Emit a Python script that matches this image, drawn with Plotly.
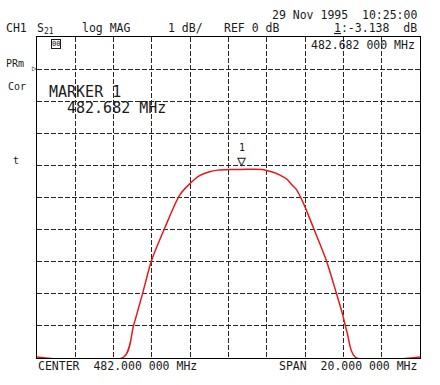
import plotly.graph_objects as go

# ---- data ----
freq_mhz = [472.00, 476.53, 477.05, 477.52, 477.99, 478.67, 479.45, 479.97, 480.49,
            481.01, 481.43, 482.05, 482.682, 483.30, 483.77, 484.29, 484.66, 485.02,
            485.33, 485.54, 485.91, 486.48, 487.10, 487.63, 487.94, 488.20, 488.61, 492.00]
s21_db = [-9.0, -9.0, -8.0, -7.0, -5.97, -4.97, -3.94, -3.59, -3.33,
          -3.21, -3.16, -3.14, -3.138, -3.13, -3.14, -3.22, -3.31, -3.43,
          -3.63, -3.76, -4.19, -5.03, -5.97, -7.0, -7.63, -8.25, -9.0, -9.0]
marker_freq = 482.682
marker_db = -3.138

center_mhz = 482.0
span_mhz = 20.0
ref_db = 0.0
scale_db = 1.0
n_div_x = 10
n_div_y = 10
ref_div_from_top = 1

x0 = center_mhz - span_mhz / 2
x1 = center_mhz + span_mhz / 2
y_top = ref_db + ref_div_from_top * scale_db
y_bot = y_top - n_div_y * scale_db

W, H = 440, 385
L, R, T, B = 37, 20, 37, 27
PW, PH = W - L - R, H - T - B
pad_db = 1.0 * (y_top - y_bot) / PH  # one pixel below the lowest trace level


def px(x):
    return (x - L) / PW


def py(y):
    return (H - B - y) / PH


MONO = "DejaVu Sans Mono"
INK = "#1a1a1a"

fig = go.Figure()
fig.add_trace(go.Scatter(x=freq_mhz, y=s21_db, mode="lines",
                         line=dict(color="#e3191c", width=1.5, shape="spline", smoothing=0.8),
                         hoverinfo="skip", showlegend=False))

axis_common = dict(showticklabels=False, ticks="", zeroline=False,
                   showline=True, linecolor="#000", linewidth=1.2, mirror=True,
                   showgrid=True, gridcolor="#262626", gridwidth=1, griddash="5px,2px",
                   layer="below traces", fixedrange=True)
fig.update_xaxes(range=[x0, x1], dtick=span_mhz / n_div_x, tick0=x0, **axis_common)
fig.update_yaxes(range=[y_bot - pad_db, y_top], dtick=scale_db, tick0=y_bot, **axis_common)

ann = []


def txt(text, x, y, size=11.5, anchor="left", color=INK, **kw):
    ann.append(dict(text=text, x=px(x), y=py(y), xref="paper", yref="paper",
                    xanchor=anchor, yanchor="middle", showarrow=False,
                    font=dict(family=MONO, size=size, color=color), **kw))


txt("29 Nov 1995  10:25:00", 419, 15, anchor="right")
txt("CH1", 4, 28)
txt("S<sub>21</sub>", 35, 28)
txt("log MAG", 80, 28)
txt("1 dB/", 205, 28, anchor="right")
txt("REF 0 dB", 222, 28)
txt("<u>1</u>:-3.138  dB", 419, 28, anchor="right")
txt("482.682 000 MHz", 417, 45, anchor="right")
txt("00", 51, 44, size=7, bordercolor=INK, borderwidth=1, borderpad=0)
txt("PRm", 4, 63, size=10)
txt("▷", 30, 68, size=8)
txt("Cor", 6, 86, size=10)
txt("t", 11, 160, size=10)
txt("MARKER 1", 47, 92, size=15)
txt("482.682 MHz", 65, 108, size=15)
txt("CENTER  482.000 000 MHz", 36, 366)
txt("SPAN  20.000 000 MHz", 419, 366, anchor="right")

ann.append(dict(text="▽", x=marker_freq, y=marker_db, xref="x", yref="y",
                xanchor="center", yanchor="bottom", showarrow=False, yshift=-3,
                font=dict(family=MONO, size=15, color=INK)))
ann.append(dict(text="1", x=marker_freq, y=marker_db, xref="x", yref="y",
                xanchor="center", yanchor="bottom", showarrow=False, yshift=14,
                font=dict(family=MONO, size=10, color=INK)))

fig.update_layout(width=W, height=H, margin=dict(l=L, r=R, t=T, b=B),
                  paper_bgcolor="white", plot_bgcolor="white",
                  annotations=ann, showlegend=False)

fig.write_html("out.html", config={"displayModeBar": False, "staticPlot": True},
               post_script="document.body.style.margin='0';document.body.style.padding='0';")
